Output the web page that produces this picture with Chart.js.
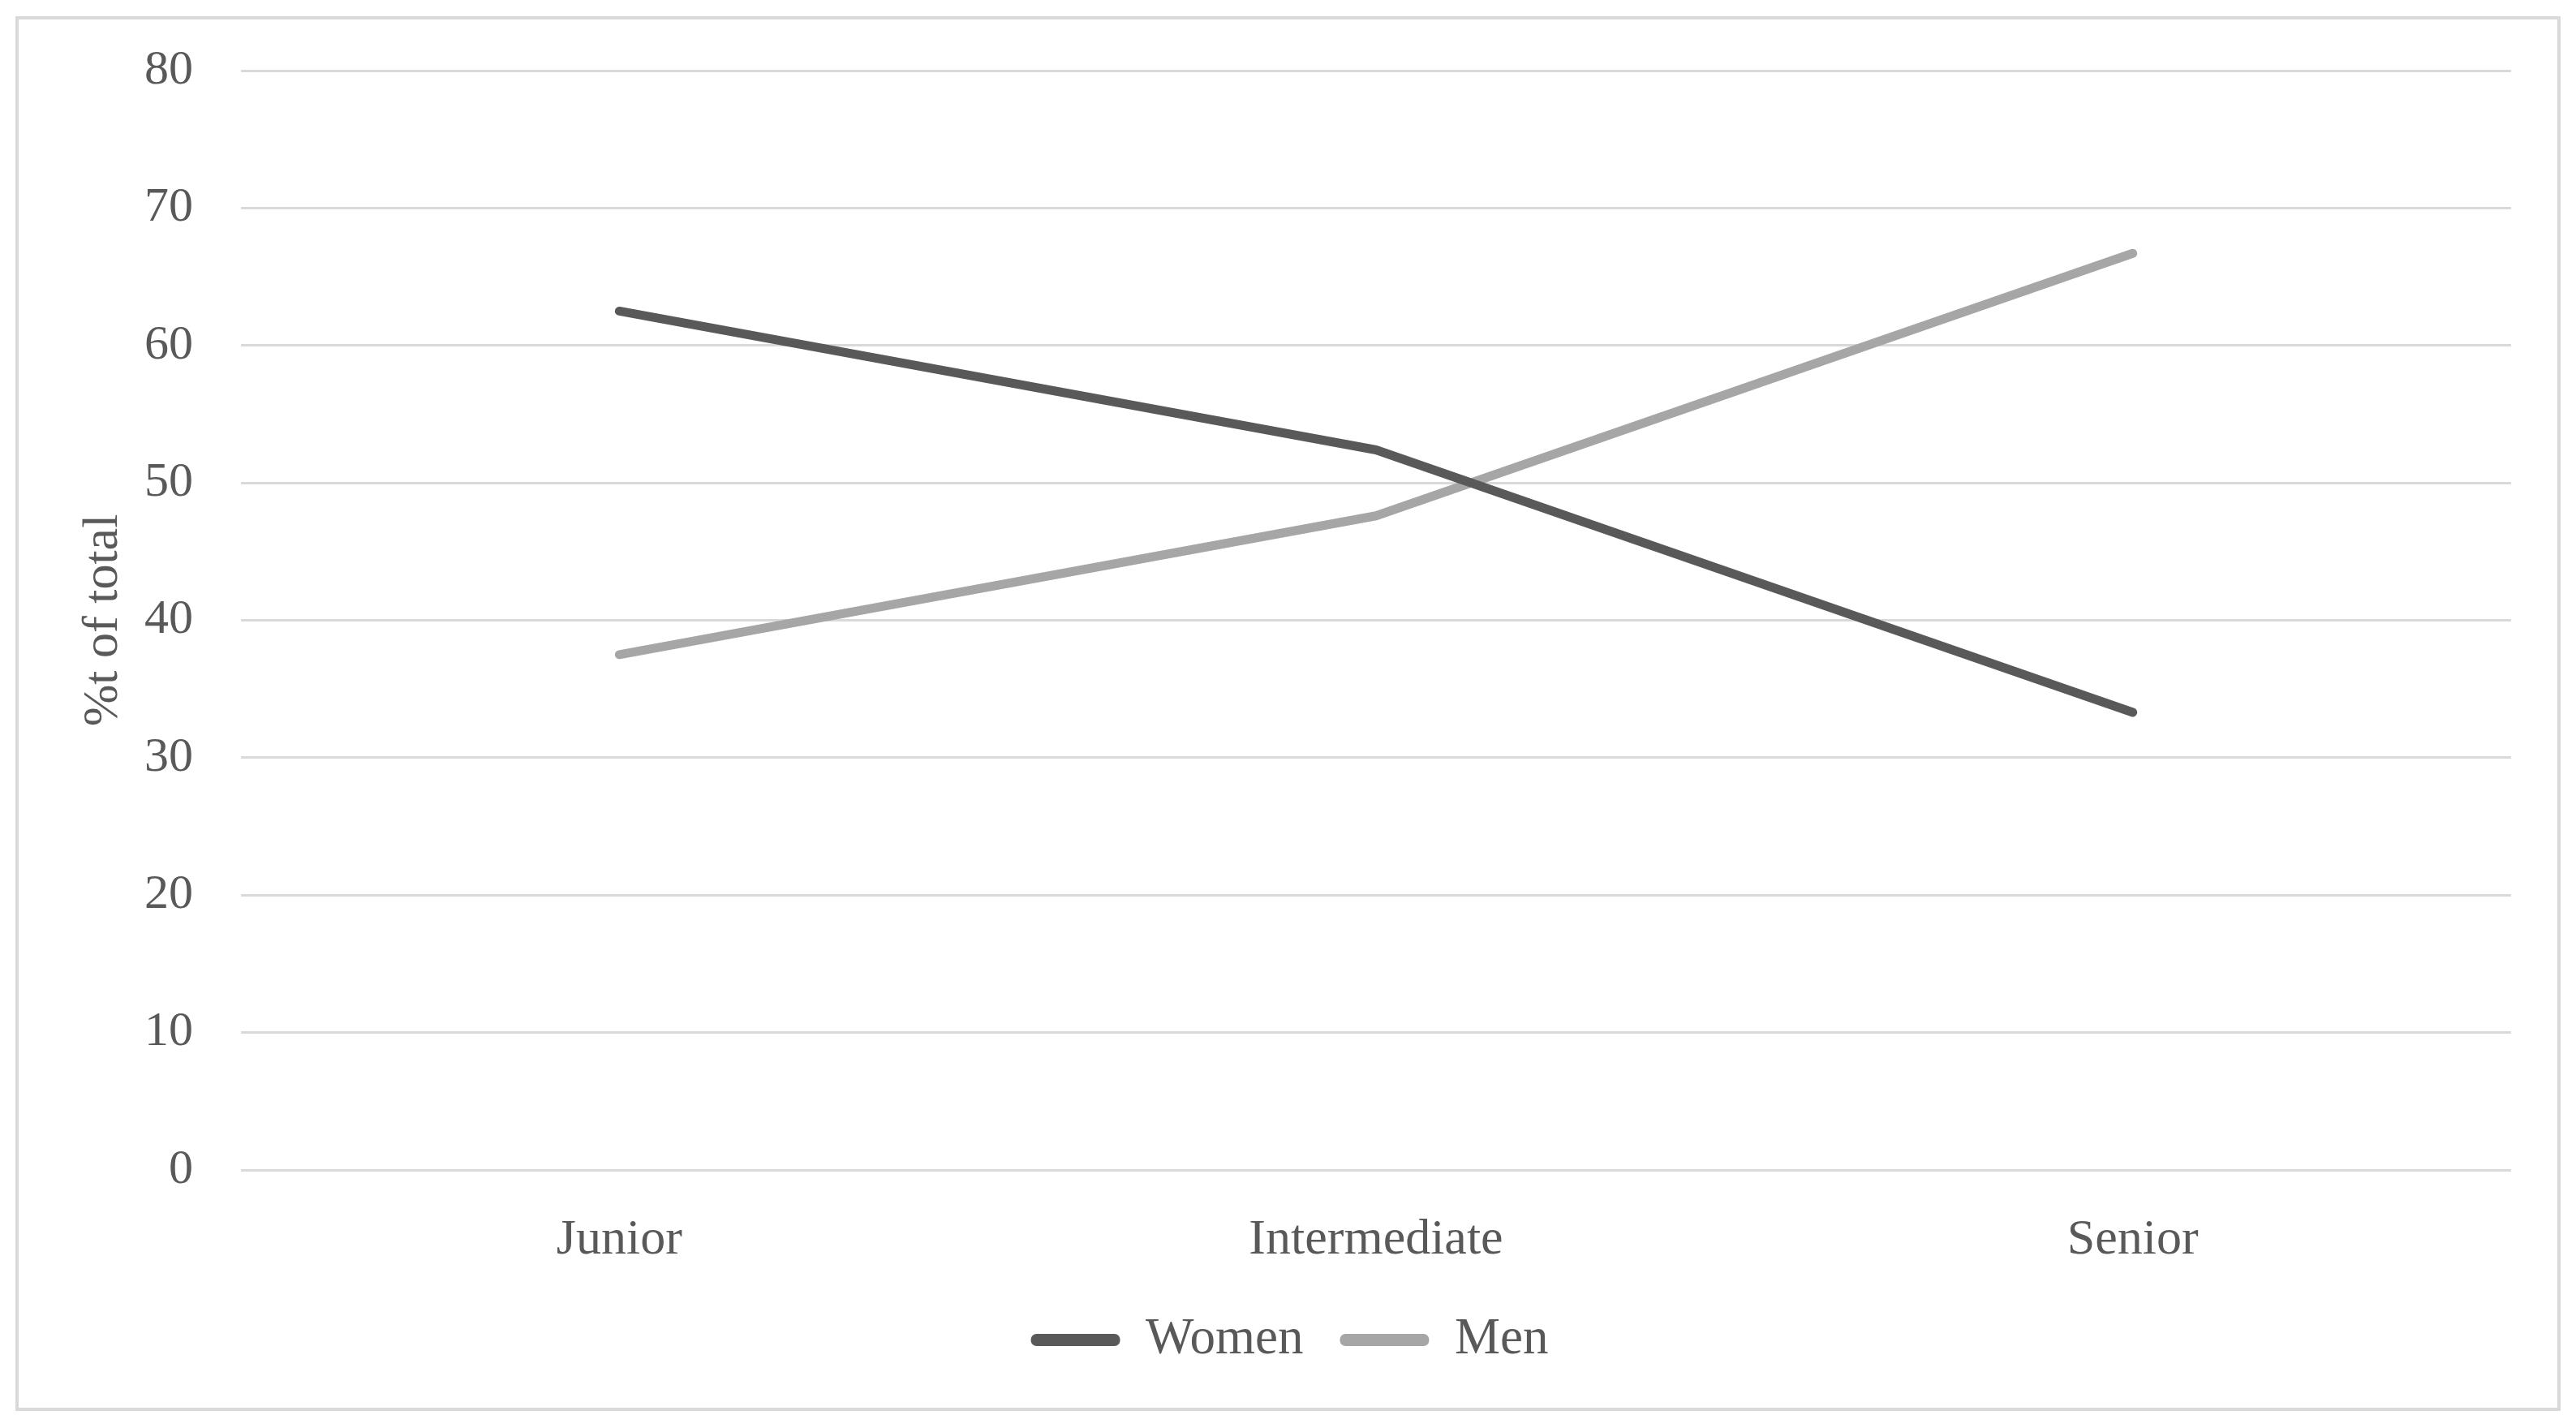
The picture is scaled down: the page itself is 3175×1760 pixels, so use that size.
<!DOCTYPE html>
<html>
<head>
<meta charset="utf-8">
<script src="https://cdn.jsdelivr.net/npm/chart.js@4/dist/chart.umd.min.js"></script>
<style>
html,body{margin:0;padding:0;background:#fff;}
#wrap{width:3175px;height:1760px;position:relative;}
</style>
</head>
<body>
<div id="wrap"><canvas id="c" width="3175" height="1760"></canvas></div>
<script>
const categories = ["Junior", "Intermediate", "Senior"];
const women = [62.5, 52.4, 33.3];
const men = [37.5, 47.6, 66.7];
const seriesNames = ["Women", "Men"];
const yTicks = [0, 10, 20, 30, 40, 50, 60, 70, 80];
const yTitle = "%t of total";

const FONT = "'Liberation Serif', 'Times New Roman', serif";
const TXT = "#595959";

const borderPlugin = {
  id: 'frame',
  beforeDraw(chart) {
    const ctx = chart.ctx;
    ctx.save();
    ctx.fillStyle = '#ffffff';
    ctx.fillRect(0, 0, chart.width, chart.height);
    ctx.strokeStyle = '#d9d9d9';
    ctx.lineWidth = 4;
    ctx.strokeRect(21, 22, 3133, 1715);
    ctx.restore();
  }
};

new Chart(document.getElementById('c'), {
  type: 'line',
  data: {
    labels: categories,
    datasets: [
      { label: seriesNames[0], data: women, borderColor: '#595959', backgroundColor: '#595959' },
      { label: seriesNames[1], data: men, borderColor: '#a6a6a6', backgroundColor: '#a6a6a6' }
    ]
  },
  options: {
    responsive: false,
    animation: false,
    devicePixelRatio: 1,
    layout: { padding: { top: 87, right: 80, left: 84, bottom: 67 } },
    elements: {
      line: { borderWidth: 11, tension: 0, borderCapStyle: 'round', borderJoinStyle: 'round' },
      point: { radius: 0, hoverRadius: 0 }
    },
    scales: {
      x: {
        offset: true,
        grid: { display: false, drawTicks: false },
        border: { display: false },
        ticks: { color: TXT, font: { family: FONT, size: 62 }, padding: 50, maxRotation: 0 },
        afterFit(s) { s.height = 133; }
      },
      y: {
        min: 0, max: 80,
        afterBuildTicks(s) { s.ticks = yTicks.map(v => ({ value: v })); },
        grid: { color: '#d9d9d9', lineWidth: 3, drawTicks: false },
        border: { display: false },
        ticks: { color: TXT, font: { family: FONT, size: 60, lineHeight: 0.5 }, padding: 59 },
        title: { display: true, text: yTitle, color: TXT, font: { family: FONT, size: 62 }, padding: { top: 7, bottom: 0 } },
        afterFit(s) { s.width = 213; }
      }
    },
    plugins: {
      tooltip: { enabled: false },
      legend: {
        position: 'bottom',
        labels: {
          color: TXT,
          font: { family: FONT, size: 63 },
          boxWidth: 110,
          boxHeight: 15,
          padding: 45,
          useBorderRadius: true,
          borderRadius: 7,
          generateLabels(chart) {
            return chart.data.datasets.map((d, i) => ({
              text: d.label, fillStyle: d.borderColor, strokeStyle: d.borderColor,
              lineWidth: 0, hidden: false, datasetIndex: i, fontColor: TXT,
              borderRadius: 7
            }));
          }
        }
      }
    }
  },
  plugins: [borderPlugin]
});
</script>
</body>
</html>
